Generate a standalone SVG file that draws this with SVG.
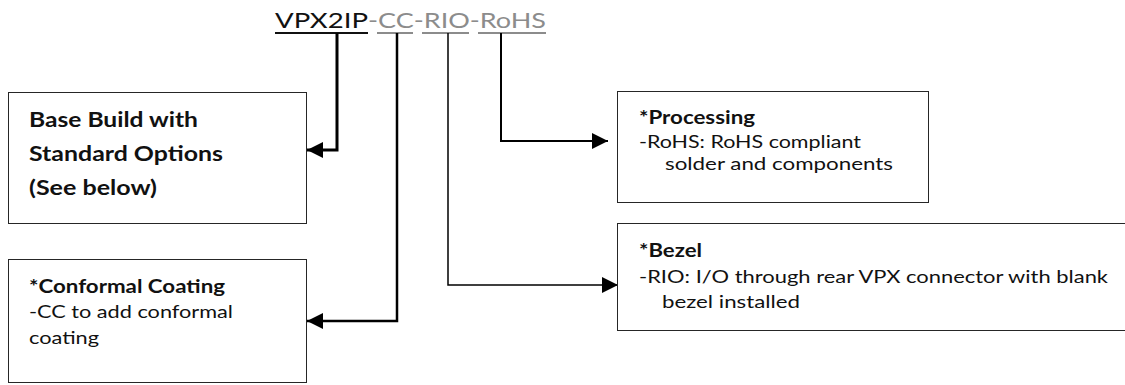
<svg xmlns="http://www.w3.org/2000/svg" width="1125" height="385" viewBox="0 0 1125 385">
  <style>
    .box { fill: #ffffff; stroke: #262626; stroke-width: 1; }
    .txt { font-family: Lato, "Open Sans", "Liberation Sans", sans-serif; fill: #111111; }
    .b { font-weight: bold; }
    .pn { font-size: 21px; }
    .big { font-size: 20px; }
    .std { font-size: 18px; }
    .gray { fill: #8c8c8c; }
    .wire { fill: none; stroke: #000000; }
    .ul-k { stroke: #111111; stroke-width: 2; }
    .ul-g { stroke: #8c8c8c; stroke-width: 2; }
  </style>
  <defs>
    <marker id="head" viewBox="0 0 16 16" markerUnits="userSpaceOnUse" markerWidth="16" markerHeight="16" refX="16" refY="8" orient="auto">
      <path d="M0,0 L16,8 L0,16 Z" fill="#000000"/>
    </marker>
  </defs>

  <!-- part number with underlined fields -->
  <g id="part-number">
    <text class="txt pn" x="275" y="28" textLength="93" lengthAdjust="spacingAndGlyphs">VPX2IP</text>
    <text class="txt pn gray" x="368" y="28" textLength="178" lengthAdjust="spacingAndGlyphs">-CC-RIO-RoHS</text>
    <line class="ul-k" x1="275" y1="33" x2="368" y2="33"/>
    <line class="ul-g" x1="377" y1="33" x2="413" y2="33"/>
    <line class="ul-g" x1="422" y1="33" x2="469" y2="33"/>
    <line class="ul-g" x1="478" y1="33" x2="546" y2="33"/>
  </g>

  <!-- connectors from each field to its description -->
  <g id="connectors">
    <path class="wire" stroke-width="3" d="M337,33 V150 H307" marker-end="url(#head)"/>
    <path class="wire" stroke-width="2.5" d="M397,33 V321 H307" marker-end="url(#head)"/>
    <path class="wire" stroke-width="1.5" d="M448,33 V285 H618" marker-end="url(#head)"/>
    <path class="wire" stroke-width="2" d="M501,33 V141 H608" marker-end="url(#head)"/>
  </g>

  <g id="base-build">
    <rect class="box" x="8.5" y="92.5" width="298" height="131"/>
    <text class="txt b big" x="29" y="127" textLength="169" lengthAdjust="spacingAndGlyphs">Base Build with</text>
    <text class="txt b big" x="29" y="161" textLength="194" lengthAdjust="spacingAndGlyphs">Standard Options</text>
    <text class="txt b big" x="29" y="195" textLength="128" lengthAdjust="spacingAndGlyphs">(See below)</text>
  </g>

  <g id="conformal-coating">
    <rect class="box" x="8.5" y="259.5" width="298" height="123"/>
    <text class="txt b std" x="29" y="293" textLength="196" lengthAdjust="spacingAndGlyphs">*Conformal Coating</text>
    <text class="txt std" x="29" y="318" textLength="204" lengthAdjust="spacingAndGlyphs">-CC to add conformal</text>
    <text class="txt std" x="29" y="344" textLength="70" lengthAdjust="spacingAndGlyphs">coating</text>
  </g>

  <g id="processing">
    <rect class="box" x="617.5" y="91.5" width="311" height="111"/>
    <text class="txt b std" x="639" y="124" textLength="116" lengthAdjust="spacingAndGlyphs">*Processing</text>
    <text class="txt std" x="639" y="148" textLength="222" lengthAdjust="spacingAndGlyphs">-RoHS: RoHS compliant</text>
    <text class="txt std" x="665" y="170" textLength="228" lengthAdjust="spacingAndGlyphs">solder and components</text>
  </g>

  <g id="bezel">
    <rect class="box" x="617.5" y="223.5" width="520" height="107"/>
    <text class="txt b std" x="639" y="257" textLength="63" lengthAdjust="spacingAndGlyphs">*Bezel</text>
    <text class="txt std" x="639" y="283" textLength="469" lengthAdjust="spacingAndGlyphs">-RIO: I/O through rear VPX connector with blank</text>
    <text class="txt std" x="662" y="308" textLength="138" lengthAdjust="spacingAndGlyphs">bezel installed</text>
  </g>
</svg>
